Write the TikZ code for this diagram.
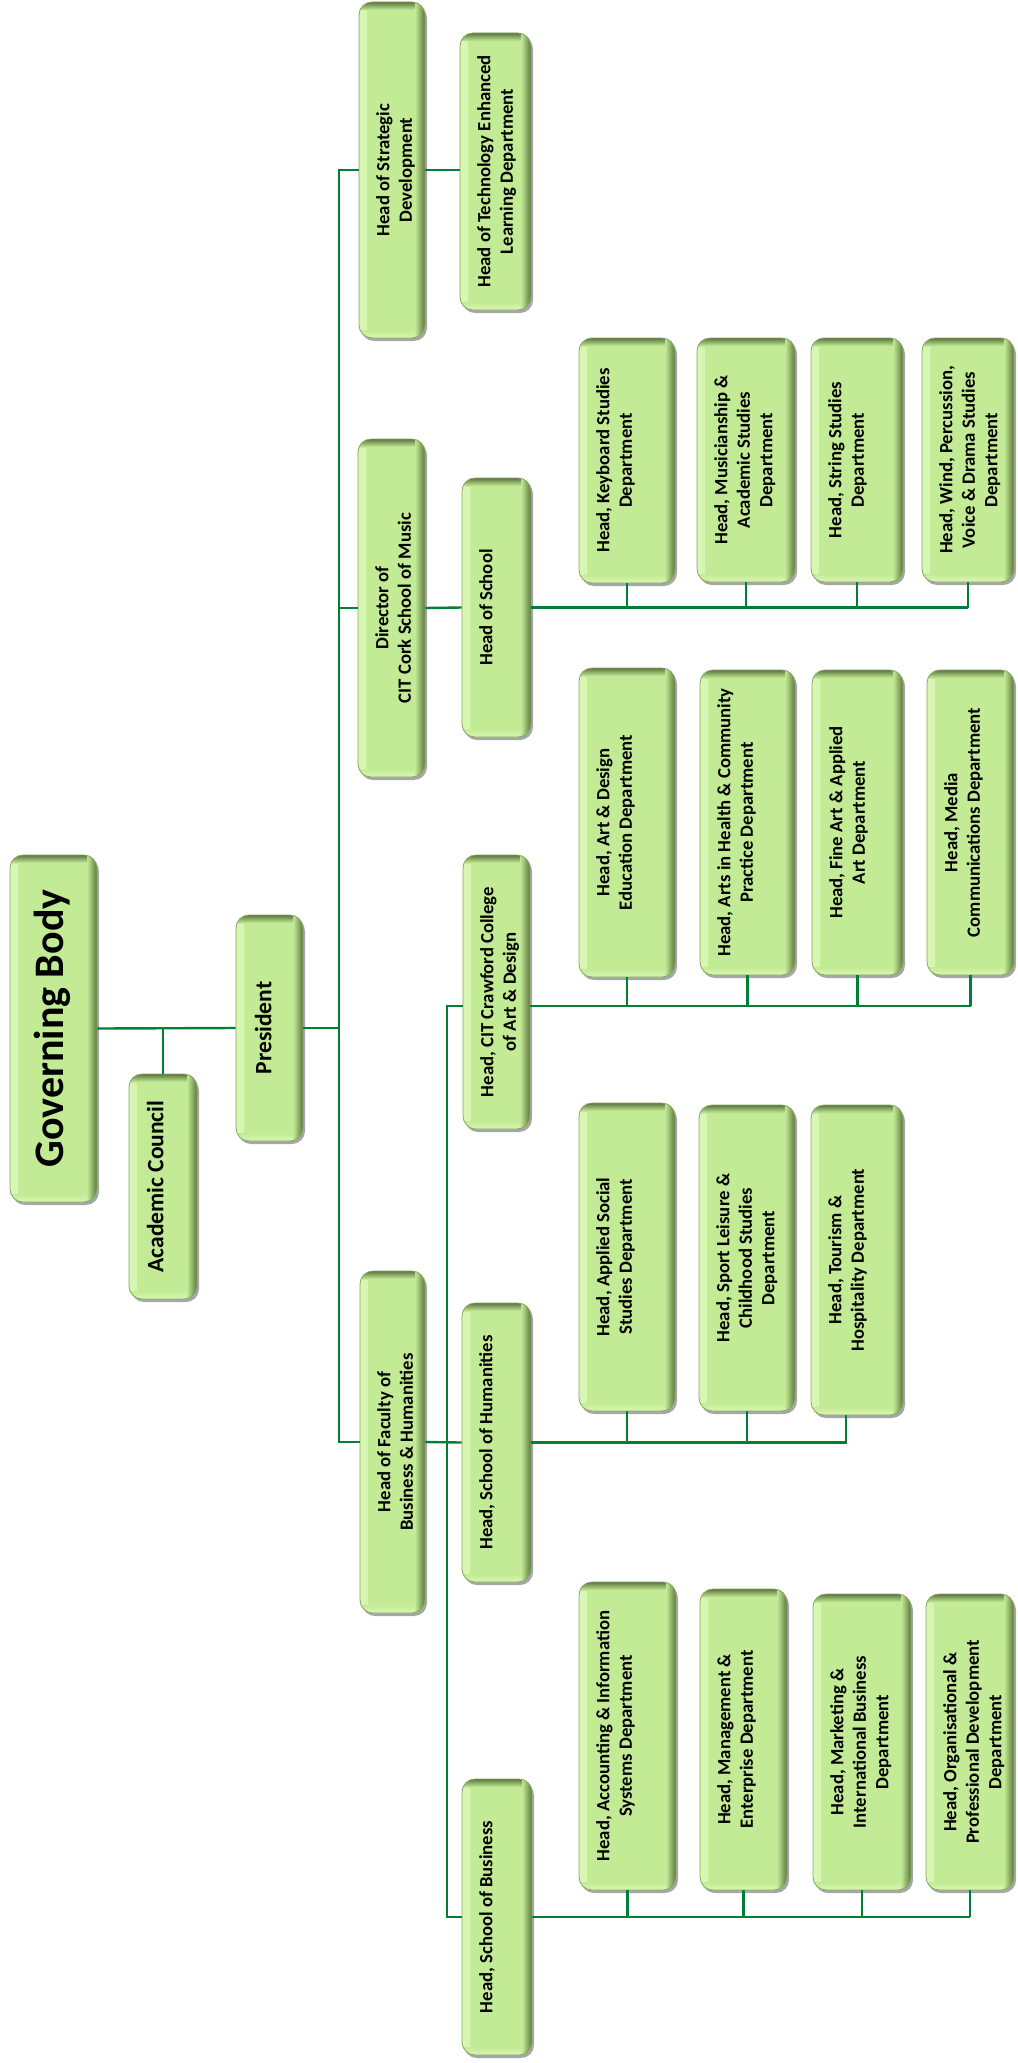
\documentclass[tikz,border=0pt]{standalone}
\usepackage{fontspec}
\setmainfont{Carlito}
\usetikzlibrary{shadows}

\definecolor{boxfill}{RGB}{195,235,150}
\definecolor{boxdark}{RGB}{92,118,62}
\definecolor{boxlight}{RGB}{216,247,180}
\definecolor{linkgreen}{RGB}{0,128,52}

\tikzset{
  orgbox/.style={fill=boxfill, draw=boxdark!60!boxfill, line width=0.8pt, rounded corners=13pt, inner sep=0pt,
    drop shadow={shadow xshift=2pt, shadow yshift=-3pt, opacity=0.35, fill=black},
    path picture={
      \fill[sharp corners, left color=boxlight, right color=boxfill] (path picture bounding box.north west) rectangle ([xshift=8pt]path picture bounding box.south west);
      \fill[sharp corners, bottom color=boxlight, top color=boxfill] (path picture bounding box.south west) rectangle ([yshift=8pt]path picture bounding box.south east);
      \fill[sharp corners, left color=boxfill, right color=boxdark] ([xshift=-10pt]path picture bounding box.north east) rectangle (path picture bounding box.south east);
      \fill[sharp corners, top color=boxdark, bottom color=boxfill] (path picture bounding box.north west) rectangle ([xshift=-10pt,yshift=-8pt]path picture bounding box.north east);
    }},
  orgtext/.style={rotate=90, anchor=north, align=center, inner xsep=0pt, inner ysep=17.5pt,
    font=\bfseries\fontsize{18.7}{22.5}\selectfont},
  link/.style={draw=linkgreen, line width=2.4pt},
}

\begin{document}
\begin{tikzpicture}[x=1pt, y=-1pt]
    \useasboundingbox (0,0) rectangle (1017,2063);

    % top of the chart
    \node[orgbox, minimum width=87pt, minimum height=347pt] (gb) at (53.5,1028.5) {};
    \node[orgtext, inner ysep=24pt, font=\bfseries\fontsize{42}{50}\selectfont] (gb-t) at (gb.west) {Governing Body};
    \node[orgbox, minimum width=68pt, minimum height=225pt] (ac) at (163,1186.5) {};
    \node[orgtext, inner ysep=18pt, font=\bfseries\fontsize{23.5}{28}\selectfont] (ac-t) at (ac.west) {Academic Council};
    \node[orgbox, minimum width=67pt, minimum height=226pt] (pres) at (269.5,1028) {};
    \node[orgtext, inner ysep=19pt, font=\bfseries\fontsize{23.5}{28}\selectfont] (pres-t) at (pres.west) {President};

    % strategic development
    \node[orgbox, minimum width=66pt, minimum height=336pt] (strat) at (392,170) {};
    \node[orgtext] (strat-t) at (strat.west) {Head of Strategic\\Development};
    \node[orgbox, minimum width=71pt, minimum height=277pt] (tech) at (495.5,171.5) {};
    \node[orgtext] (tech-t) at (tech.west) {Head of Technology Enhanced\\Learning Department};

    % school of music
    \node[orgbox, minimum width=67pt, minimum height=338pt] (dir) at (391.5,608) {};
    \node[orgtext] (dir-t) at (dir.west) {Director of\\CIT Cork School of Music};
    \node[orgbox, minimum width=69pt, minimum height=259pt] (hos) at (496.5,607.5) {};
    \node[orgtext] (hos-t) at (hos.west) {Head of School};
    \node[orgbox, minimum width=96pt, minimum height=245pt] (kb) at (627,460.5) {};
    \node[orgtext] (kb-t) at (kb.west) {Head, Keyboard Studies\\Department};
    \node[orgbox, minimum width=98pt, minimum height=244pt] (mus) at (746,460) {};
    \node[orgtext] (mus-t) at (mus.west) {Head, Musicianship \&\\Academic Studies\\Department};
    \node[orgbox, minimum width=92pt, minimum height=244pt] (str) at (857,460) {};
    \node[orgtext] (str-t) at (str.west) {Head, String Studies\\Department};
    \node[orgbox, minimum width=92pt, minimum height=244pt] (wind) at (968,460) {};
    \node[orgtext] (wind-t) at (wind.west) {Head, Wind, Percussion,\\Voice \& Drama Studies\\Department};

    % crawford college
    \node[orgbox, minimum width=67pt, minimum height=274pt] (craw) at (496.5,992) {};
    \node[orgtext] (craw-t) at (craw.west) {Head, CIT Crawford College\\of Art \& Design};
    \node[orgbox, minimum width=96pt, minimum height=309pt] (artd) at (627,822.5) {};
    \node[orgtext] (artd-t) at (artd.west) {Head, Art \& Design\\Education Department};
    \node[orgbox, minimum width=95pt, minimum height=305pt] (hlth) at (747.5,822.5) {};
    \node[orgtext] (hlth-t) at (hlth.west) {Head, Arts in Health \& Community\\Practice Department};
    \node[orgbox, minimum width=91pt, minimum height=305pt] (fine) at (857.5,822.5) {};
    \node[orgtext] (fine-t) at (fine.west) {Head, Fine Art \& Applied\\Art Department};
    \node[orgbox, minimum width=87pt, minimum height=305pt] (media) at (970.5,822.5) {};
    \node[orgtext] (media-t) at (media.west) {Head, Media\\Communications Department};

    % faculty and humanities
    \node[orgbox, minimum width=65pt, minimum height=342pt] (fac) at (392.5,1442) {};
    \node[orgtext] (fac-t) at (fac.west) {Head of Faculty of\\Business \& Humanities};
    \node[orgbox, minimum width=69pt, minimum height=279pt] (hum) at (496.5,1442.5) {};
    \node[orgtext] (hum-t) at (hum.west) {Head, School of Humanities};
    \node[orgbox, minimum width=96pt, minimum height=308pt] (soc) at (627,1257) {};
    \node[orgtext] (soc-t) at (soc.west) {Head, Applied Social\\Studies Department};
    \node[orgbox, minimum width=96pt, minimum height=306pt] (sport) at (747,1258) {};
    \node[orgtext] (sport-t) at (sport.west) {Head, Sport Leisure \&\\Childhood Studies\\Department};
    \node[orgbox, minimum width=92pt, minimum height=310pt] (tour) at (857,1260) {};
    \node[orgtext] (tour-t) at (tour.west) {Head, Tourism \&\\Hospitality Department};

    % school of business
    \node[orgbox, minimum width=70pt, minimum height=276pt] (bus) at (497,1917) {};
    \node[orgtext] (bus-t) at (bus.west) {Head, School of Business};
    \node[orgbox, minimum width=97pt, minimum height=308pt] (acc) at (627.5,1736) {};
    \node[orgtext] (acc-t) at (acc.west) {Head, Accounting \& Information\\Systems Department};
    \node[orgbox, minimum width=87pt, minimum height=301pt] (mgmt) at (743.5,1739.5) {};
    \node[orgtext] (mgmt-t) at (mgmt.west) {Head, Management \&\\Enterprise Department};
    \node[orgbox, minimum width=98pt, minimum height=296pt] (mkt) at (862,1742) {};
    \node[orgtext] (mkt-t) at (mkt.west) {Head, Marketing \&\\International Business\\Department};
    \node[orgbox, minimum width=88pt, minimum height=296pt] (org) at (970,1742) {};
    \node[orgtext] (org-t) at (org.west) {Head, Organisational \&\\Professional Development\\Department};

    % connectors
    \coordinate (spine) at (339,1442);
    \coordinate (artbar) at (447,1006);
    \coordinate (tourleg) at ([xshift=-11pt]tour.south);
    \draw[link] (gb.east) -- (pres.west);
    \draw[link] (ac.north) -- (ac.north |- gb.east);
    \draw[link] (pres.east) -- (pres.east -| spine);
    \draw[link] (strat.west) -| (spine) -- (fac.west);
    \draw[link] (strat.east) -- (strat.east -| tech.west);
    \draw[link] (dir.west) -- (dir.west -| spine);
    \draw[link] (dir.east) -- (hos.west);
    \draw[link] (hos.east) -- (hos.east -| wind.south);
    \foreach \d in {kb,mus,str,wind}
        \draw[link] (\d.south) -- (\d.south |- hos.east);
    \draw[link] (craw.west |- artbar) -- (artbar) -- (artbar |- bus.west) -- (bus.west);
    \draw[link] (craw.east |- artbar) -- (media.south |- artbar);
    \foreach \d in {artd,hlth,fine,media}
        \draw[link] (\d.south) -- (\d.south |- artbar);
    \draw[link] (fac.east) -- (hum.west);
    \draw[link] (tourleg) |- (hum.east);
    \foreach \d in {soc,sport}
        \draw[link] (\d.south) -- (\d.south |- hum.east);
    \draw[link] (bus.east) -- (bus.east -| org.south);
    \foreach \d in {acc,mgmt,mkt,org}
        \draw[link] (\d.south) -- (\d.south |- bus.east);
\end{tikzpicture}
\end{document}
